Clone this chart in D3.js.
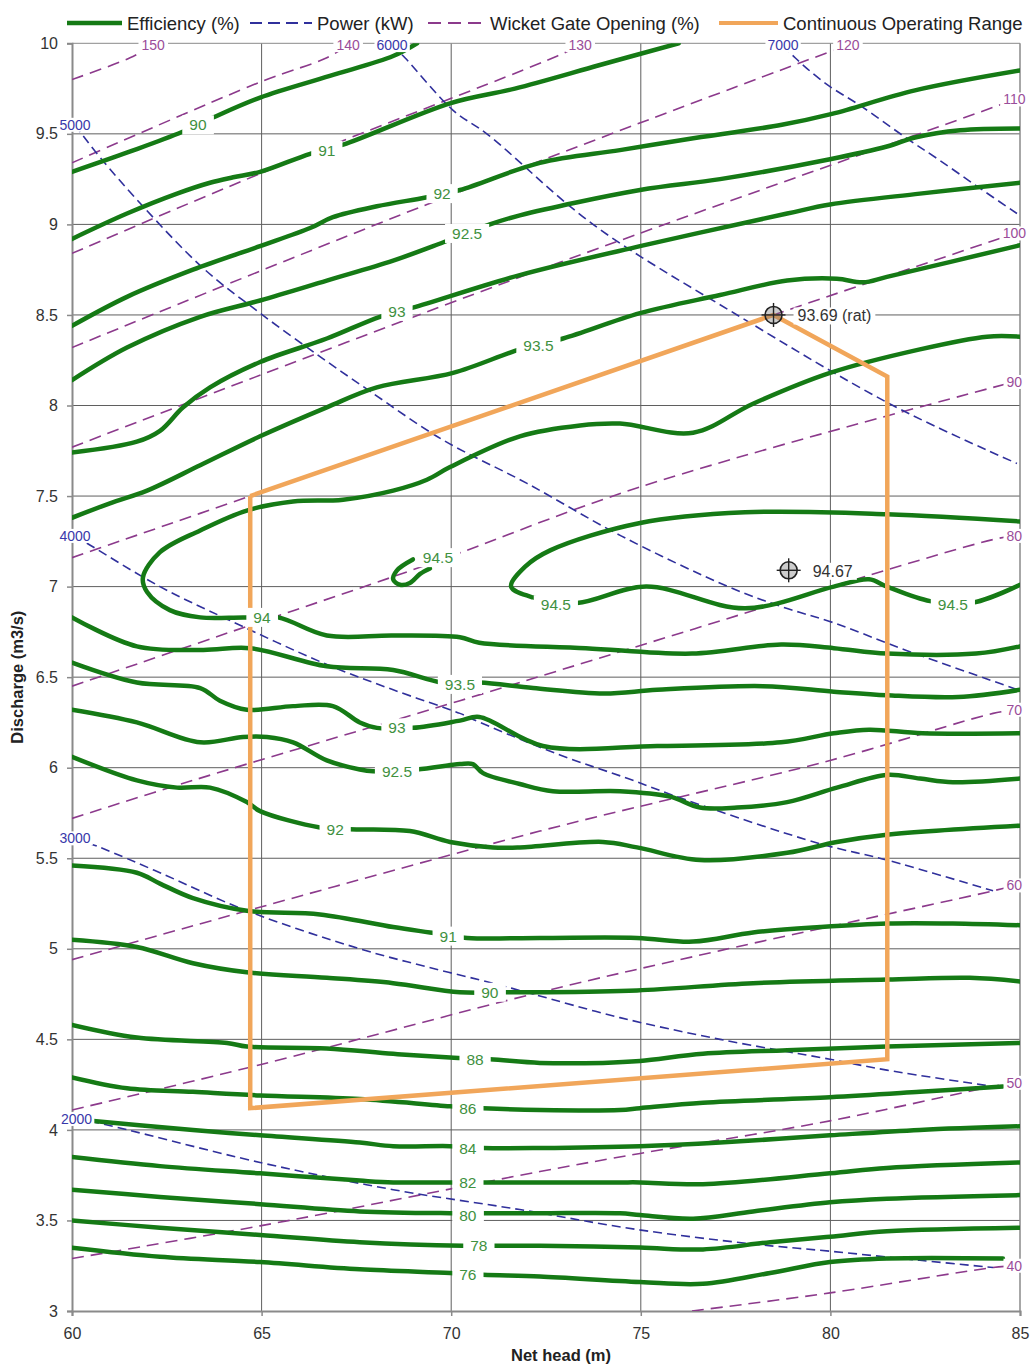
<!DOCTYPE html>
<html lang="en">
<head>
<meta charset="UTF-8">
<title>Turbine Hill Chart</title>
<script src="https://d3js.org/d3.v7.min.js"></script>
<style>
  body { margin: 0; background: #fff; }
  svg text { font-family: "Liberation Sans", Arial, sans-serif; }
</style>
</head>
<body>
<script>
// ---- axis ticks ----
const headTicks = [60, 65, 70, 75, 80, 85];
const flowTicks = [3, 3.5, 4, 4.5, 5, 5.5, 6, 6.5, 7, 7.5, 8, 8.5, 9, 9.5, 10];

// ---- efficiency contours, [net head (m), discharge (m3/s)] ----
const eff90a = [[60,9.29],[61.5,9.40],[62.9,9.51],[63.72,9.59],[64.96,9.70],[66.8,9.82],[68.47,9.93],[69.1,10.0]];
const eff91a = [[60,8.92],[61.45,9.06],[62.77,9.17],[63.64,9.23],[64.25,9.26],[64.96,9.29],[66.28,9.39],[67.15,9.44],[69.99,9.67],[71.68,9.75],[73.92,9.88],[76.0,10.0]];
const eff92a = [[60,8.44],[61.45,8.60],[63.19,8.75],[64.96,8.88],[66.28,8.98],[66.88,9.04],[68.04,9.10],[69.36,9.15],[70.23,9.19],[72.34,9.34],[74.45,9.41],[76.22,9.47],[78.72,9.55],[80.04,9.61],[82.23,9.74],[85,9.85]];
const eff925a = [[60,8.14],[61.45,8.32],[63.38,8.49],[64.96,8.58],[66.72,8.69],[68.47,8.80],[69.78,8.90],[71.02,9.0],[71.81,9.05],[74.98,9.19],[77.09,9.25],[79.99,9.36],[81.49,9.43],[82.23,9.48],[83.42,9.52],[85,9.53]];
const eff93a = [[60,7.74],[61.71,7.80],[62.32,7.86],[62.93,7.99],[63.64,8.10],[64.96,8.24],[66.72,8.37],[68.12,8.49],[68.99,8.54],[71.81,8.72],[74.98,8.88],[78.86,9.06],[79.99,9.11],[82.36,9.17],[85,9.23]];
const eff935a = [[60,7.38],[61.0,7.46],[61.98,7.53],[63.38,7.67],[64.96,7.83],[66.72,7.99],[68.04,8.10],[70.05,8.18],[71.81,8.31],[72.95,8.37],[74.98,8.51],[77.09,8.61],[78.86,8.69],[80.17,8.70],[80.86,8.68],[81.49,8.71],[85,8.885]];
const eff94 = [[85,8.38],[84.13,8.38],[82.36,8.31],[79.99,8.18],[77.96,8.01],[76.38,7.85],[74.45,7.90],[73.40,7.89],[71.81,7.83],[69.97,7.66],[69.36,7.59],[68.47,7.53],[67.15,7.48],[65.83,7.47],[64.61,7.42],[63.38,7.31],[62.32,7.19],[61.87,7.05],[61.98,6.97],[62.58,6.87],[63.38,6.83],[64.51,6.83],[65.43,6.83],[66.72,6.73],[68.47,6.73],[70.23,6.72],[70.74,6.69],[73.55,6.66],[76.35,6.63],[78.7,6.68],[80.09,6.66],[81.49,6.63],[83.84,6.63],[85,6.67]];
const eff945 = [[85,7.36],[81.49,7.40],[77.75,7.41],[74.95,7.35],[72.61,7.20],[71.95,7.11],[71.58,7.00],[72.16,6.94],[73.32,6.91],[75.14,7.00],[77.75,6.88],[80.09,7.00],[81.02,7.04],[81.49,7.00],[82.63,6.92],[83.73,6.91],[85,7.01]];
const eff945i = [[68.99,7.15],[68.57,7.09],[68.47,7.04],[68.65,7.01],[68.91,7.02],[69.18,7.07],[69.44,7.10]];
const eff935b = [[60,6.83],[61.71,6.67],[63.45,6.65],[64.69,6.66],[66.72,6.56],[68.47,6.54],[69.78,6.47],[70.74,6.47],[72.16,6.44],[74.03,6.41],[75.43,6.43],[78.22,6.45],[80.09,6.42],[81.49,6.40],[83.37,6.39],[85,6.43]];
const eff93b = [[60,6.58],[61.71,6.47],[63.38,6.44],[63.90,6.37],[64.61,6.32],[65.83,6.34],[66.88,6.34],[67.59,6.25],[68.04,6.22],[68.99,6.22],[70.23,6.26],[70.74,6.28],[72.42,6.12],[75.43,6.12],[78.7,6.14],[80.09,6.19],[81.02,6.21],[82.43,6.19],[85,6.19]];
const eff925b = [[60,6.32],[61.71,6.25],[63.38,6.14],[64.51,6.17],[65.14,6.17],[65.83,6.14],[66.72,6.04],[67.59,5.99],[67.94,5.98],[69.10,5.99],[70.23,6.02],[70.57,6.02],[70.84,5.97],[71.81,5.91],[72.68,5.87],[74.45,5.87],[75.77,5.84],[76.56,5.78],[77.54,5.78],[78.86,5.81],[80.17,5.89],[81.49,5.96],[82.36,5.94],[83.23,5.92],[85,5.94]];
const eff92b = [[60,6.06],[61.71,5.93],[62.77,5.89],[63.64,5.89],[64.61,5.81],[64.96,5.76],[66.54,5.67],[67.33,5.66],[68.91,5.65],[69.97,5.59],[71.10,5.56],[71.81,5.56],[74.0,5.59],[74.90,5.56],[76.56,5.49],[78.86,5.53],[80.17,5.59],[81.49,5.63],[85,5.68]];
const eff91b = [[60,5.46],[61.71,5.42],[62.32,5.36],[63.19,5.28],[64.61,5.21],[66.54,5.19],[68.47,5.12],[69.44,5.09],[70.42,5.06],[72.34,5.06],[74.90,5.06],[76.38,5.04],[77.96,5.09],[79.73,5.12],[81.49,5.14],[83.23,5.14],[85,5.13]];
const eff90b = [[60,5.05],[61.71,5.01],[63.19,4.92],[64.61,4.87],[66.72,4.84],[68.47,4.81],[70.23,4.76],[71.47,4.76],[72.34,4.76],[74.90,4.77],[77.96,4.81],[81.49,4.83],[83.68,4.84],[85,4.82]];
const eff88 = [[60,4.58],[61.71,4.51],[64.09,4.48],[64.61,4.46],[66.72,4.45],[68.47,4.42],[69.97,4.40],[71.02,4.39],[72.34,4.37],[74.0,4.37],[74.98,4.38],[76.64,4.42],[78.86,4.44],[81.49,4.46],[85,4.48]];
const eff86 = [[60,4.29],[61.45,4.23],[63.19,4.21],[64.96,4.19],[67.59,4.17],[69.97,4.13],[70.84,4.12],[72.34,4.11],[74.45,4.11],[74.98,4.12],[76.64,4.15],[79.99,4.18],[82.36,4.21],[84.55,4.24]];
const eff84 = [[60,4.06],[63.19,4.00],[64.96,3.97],[67.59,3.93],[68.47,3.91],[69.97,3.91],[70.84,3.90],[72.34,3.90],[74.98,3.91],[77.09,3.93],[79.99,3.97],[82.36,4.00],[85,4.02]];
const eff82 = [[60,3.85],[62.32,3.80],[64.96,3.76],[67.59,3.72],[68.47,3.71],[69.97,3.71],[70.84,3.71],[72.34,3.71],[74.45,3.71],[74.98,3.71],[76.64,3.70],[79.99,3.76],[81.49,3.79],[85,3.82]];
const eff80 = [[60,3.67],[62.32,3.63],[64.96,3.59],[67.59,3.55],[69.97,3.54],[70.84,3.54],[72.34,3.54],[74.45,3.54],[74.98,3.53],[76.38,3.51],[77.96,3.55],[79.99,3.60],[81.49,3.62],[85,3.64]];
const eff78 = [[60,3.50],[62.32,3.46],[64.96,3.42],[67.59,3.38],[70.31,3.36],[71.10,3.36],[72.34,3.36],[74.98,3.35],[76.64,3.34],[78.41,3.38],[79.99,3.41],[81.49,3.44],[85,3.46]];
const eff76 = [[60,3.35],[62.32,3.30],[64.96,3.27],[67.59,3.23],[69.97,3.21],[70.84,3.20],[72.34,3.19],[74.98,3.16],[76.64,3.15],[78.41,3.21],[79.99,3.27],[81.49,3.29],[84.55,3.29]];

const effLines = [eff90a, eff91a, eff92a, eff925a, eff93a, eff935a, eff94, eff945, eff945i,
                  eff935b, eff93b, eff925b, eff92b, eff91b, eff90b, eff88, eff86, eff84, eff82, eff80, eff78, eff76];

// contour labels [head, discharge, text]
const effLabels = [
  [63.32, 9.55, "90"], [66.72, 9.41, "91"], [69.76, 9.17, "92"], [70.42, 8.95, "92.5"],
  [68.57, 8.52, "93"], [72.3, 8.33, "93.5"], [65.01, 6.83, "94"], [69.65, 7.16, "94.5"],
  [72.76, 6.90, "94.5"], [83.23, 6.90, "94.5"], [70.23, 6.46, "93.5"], [68.57, 6.22, "93"],
  [68.57, 5.98, "92.5"], [66.94, 5.66, "92"], [69.92, 5.07, "91"], [71.02, 4.76, "90"],
  [70.63, 4.39, "88"], [70.44, 4.12, "86"], [70.44, 3.90, "84"], [70.44, 3.71, "82"],
  [70.44, 3.53, "80"], [70.73, 3.36, "78"], [70.44, 3.20, "76"]
];

// ---- power lines (kW); label sits at the first point ----
const powerValues = [2000, 3000, 4000, 5000, 6000, 7000];
const power2000 = [[60.12,4.06],[60.66,4.04],[64.96,3.82],[68.47,3.67],[71.81,3.56],[74.90,3.45],[77.96,3.37],[79.99,3.33],[82.36,3.28],[84.29,3.24]];
const power3000 = [[60.08,5.61],[60.74,5.56],[62.32,5.42],[64.61,5.21],[67.59,5.00],[69.36,4.90],[71.10,4.81],[72.16,4.75],[74.45,4.62],[77.09,4.50],[79.99,4.39],[81.49,4.33],[84.29,4.24]];
const power4000 = [[60.08,7.28],[60.47,7.23],[62.32,7.00],[64.09,6.82],[66.72,6.57],[68.47,6.43],[70.23,6.30],[70.76,6.25],[72.87,6.07],[74.66,5.94],[76.22,5.82],[79.73,5.58],[81.49,5.49],[84.29,5.32]];
const power5000 = [[60.08,9.55],[60.29,9.49],[60.74,9.37],[61.87,9.10],[63.45,8.76],[64.96,8.51],[66.54,8.27],[67.78,8.09],[69.78,7.81],[72.0,7.57],[74.48,7.28],[77.30,7.0],[78.70,6.89],[80.09,6.80],[81.97,6.65],[84.95,6.43]];
const power6000 = [[68.44,9.99],[68.78,9.92],[70.05,9.63],[70.94,9.5],[73.74,9.0],[77.54,8.5],[81.65,8.0],[84.92,7.68]];
const power7000 = [[78.75,9.99],[79.07,9.92],[79.86,9.78],[80.83,9.65],[82.05,9.47],[82.84,9.36],[83.87,9.21],[84.92,9.06]];
const powerLines = [power2000, power3000, power4000, power5000, power6000, power7000];

// ---- wicket gate opening (%); label sits at the last point ----
const gateValues = [150, 140, 130, 120, 110, 100, 90, 80, 70, 60, 50, 40];
const gate150 = [[60,9.80],[61.53,9.92],[62.14,9.99]];
const gate140 = [[60,9.34],[65.01,9.79],[66.72,9.92],[67.28,9.99]];
const gate130 = [[60,8.84],[64.96,9.28],[72.8,9.93],[73.4,9.99]];
const gate120 = [[60,8.32],[69.36,9.11],[79.94,9.95],[80.46,9.99]];
const gate110 = [[60,7.77],[72.34,8.75],[84.34,9.65],[84.85,9.69]];
const gate100 = [[60,7.16],[64.7,7.5],[78.5,8.5],[84.29,8.91],[84.85,8.95]];
const gate90 = [[60,6.45],[64.61,6.78],[69.36,7.12],[74.98,7.55],[84.29,8.10],[84.85,8.13]];
const gate80 = [[60,5.72],[63.19,5.93],[70.23,6.37],[84.29,7.26],[84.85,7.28]];
const gate70 = [[60,4.94],[72.34,5.65],[79.99,6.04],[84.29,6.30],[84.85,6.32]];
const gate60 = [[60,4.11],[64.96,4.36],[72.34,4.76],[77.09,4.99],[84.29,5.32],[84.85,5.35]];
const gate50 = [[60,3.29],[64.96,3.47],[72.34,3.77],[74.98,3.87],[79.99,4.05],[84.29,4.24],[84.85,4.26]];
const gate40 = [[76.35,3.0],[79.99,3.10],[84.29,3.24],[84.85,3.25]];
const gateLines = [gate150, gate140, gate130, gate120, gate110, gate100, gate90, gate80, gate70, gate60, gate50, gate40];

// ---- continuous operating range and marked points ----
const operatingRange = [[64.7,7.5],[78.5,8.5],[81.5,8.16],[81.5,4.39],[64.7,4.12],[64.7,7.5]];
const ratedPoint = [78.5, 8.5], ratedLabel = "93.69 (rat)";
const bestPoint = [78.9, 7.09], bestLabel = "94.67";

// ---- drawing ----
const W = 1035, H = 1365;
const plot = { left: 72, right: 1020, top: 43.3, bottom: 1311 };
const green = '#157a15', greenText = '#3f913f';
const blue = '#30309c', blueText = '#3838aa';
const purple = '#8c3a8c', purpleText = '#9a4d9a';
const orange = '#f1a65a';
const narrow = '"Liberation Sans Narrow", "DejaVu Sans Condensed", "Arial Narrow", sans-serif';

const svg = d3.select('body').append('svg').attr('width', W).attr('height', H);
const x = d3.scaleLinear().domain([60, 85]).range([plot.left, plot.right]);
const y = d3.scaleLinear().domain([3, 10]).range([plot.bottom, plot.top]);

svg.append('defs').append('clipPath').attr('id', 'plotClip')
  .append('rect').attr('x', plot.left).attr('y', plot.top)
  .attr('width', plot.right - plot.left).attr('height', plot.bottom - plot.top);

// grid
const grid = svg.append('g');
grid.selectAll('line.v').data(headTicks.slice(1, -1)).enter().append('line')
  .attr('x1', d => x(d)).attr('x2', d => x(d)).attr('y1', plot.top).attr('y2', plot.bottom)
  .attr('stroke', '#5f5f5f').attr('stroke-width', 1);
grid.selectAll('line.h').data(flowTicks.slice(1)).enter().append('line')
  .attr('x1', plot.left).attr('x2', plot.right).attr('y1', d => y(d)).attr('y2', d => y(d))
  .attr('stroke', d => d === 10 ? '#8a8a8a' : '#5f5f5f').attr('stroke-width', 1);
grid.append('line').attr('x1', plot.right).attr('x2', plot.right).attr('y1', plot.top).attr('y2', plot.bottom)
  .attr('stroke', '#8a8a8a').attr('stroke-width', 1.5);

// axes
const yAxis = svg.append('g').attr('transform', `translate(${plot.left},0)`)
  .call(d3.axisLeft(y).tickValues(flowTicks).tickSize(5).tickPadding(9).tickFormat(d3.format('')));
const xAxis = svg.append('g').attr('transform', `translate(0,${plot.bottom})`)
  .call(d3.axisBottom(x).tickValues(headTicks).tickSize(5).tickPadding(12).tickFormat(d3.format('')));
[yAxis, xAxis].forEach(a => {
  a.select('.domain').attr('stroke', '#8a8a8a').attr('stroke-width', 2);
  a.selectAll('.tick line').attr('stroke', '#8a8a8a').attr('stroke-width', 1.5);
  a.selectAll('.tick text').attr('font-size', 16).attr('fill', '#333')
    .attr('font-family', '"Liberation Sans", Arial, sans-serif');
});

svg.append('text').attr('transform', `translate(23,${(plot.top + plot.bottom) / 2}) rotate(-90)`)
  .attr('text-anchor', 'middle').attr('font-size', 16.5).attr('font-weight', 'bold').attr('fill', '#222')
  .text('Discharge (m3/s)');
svg.append('text').attr('x', 561).attr('y', 1361)
  .attr('text-anchor', 'middle').attr('font-size', 16.5).attr('font-weight', 'bold').attr('fill', '#222')
  .text('Net head (m)');

const line = d3.line().x(d => x(d[0])).y(d => y(d[1])).curve(d3.curveCatmullRom.alpha(0.5));
const plotG = svg.append('g').attr('clip-path', 'url(#plotClip)');

plotG.selectAll('path.gate').data(gateLines).enter().append('path')
  .attr('d', line).attr('fill', 'none').attr('stroke', purple)
  .attr('stroke-width', 1.6).attr('stroke-dasharray', '12,7');
plotG.selectAll('path.power').data(powerLines).enter().append('path')
  .attr('d', line).attr('fill', 'none').attr('stroke', blue)
  .attr('stroke-width', 1.6).attr('stroke-dasharray', '9,5');
plotG.selectAll('path.eff').data(effLines).enter().append('path')
  .attr('d', line).attr('fill', 'none').attr('stroke', green)
  .attr('stroke-width', 4.5).attr('stroke-linecap', 'round').attr('stroke-linejoin', 'round');

plotG.append('path').datum(operatingRange)
  .attr('d', d3.line().x(d => x(d[0])).y(d => y(d[1])))
  .attr('fill', 'none').attr('stroke', orange).attr('stroke-width', 4.5).attr('stroke-linejoin', 'miter');

// labels with white boxes on top
const labelLayer = svg.append('g');
function boxLabel(px, py, txt, o) {
  const g = labelLayer.append('g');
  const t = g.append('text').attr('x', px).attr('y', py)
    .attr('text-anchor', o.anchor || 'middle').attr('dominant-baseline', 'central')
    .attr('font-size', o.size).attr('fill', o.color).text(txt);
  if (o.family) t.attr('font-family', o.family);
  const b = t.node().getBBox();
  g.insert('rect', 'text').attr('x', b.x - o.padX).attr('y', b.y - o.padY)
    .attr('width', b.width + 2 * o.padX).attr('height', b.height + 2 * o.padY).attr('fill', '#fff');
}

effLabels.forEach(d => boxLabel(x(d[0]), y(d[1]), d[2], { size: 15.5, color: greenText, padX: 7, padY: 1 }));
powerLines.forEach((pts, i) => boxLabel(x(pts[0][0]), y(pts[0][1]), powerValues[i],
  { size: 14, color: blueText, padX: 2, padY: -1, family: narrow }));
gateLines.forEach((pts, i) => { const p = pts[pts.length - 1];
  boxLabel(x(p[0]), y(p[1]), gateValues[i], { size: 14, color: purpleText, padX: 3, padY: -1, family: narrow }); });

// marked points
function marker(pt, txt) {
  const cx = x(pt[0]), cy = y(pt[1]);
  boxLabel(cx + 24, cy + 1, txt, { size: 16, color: '#333', anchor: 'start', padX: 4, padY: 0 });
  const g = svg.append('g');
  g.append('circle').attr('cx', cx).attr('cy', cy).attr('r', 8.5)
    .attr('fill', 'rgba(110,110,110,0.35)').attr('stroke', '#222').attr('stroke-width', 1.6);
  g.append('line').attr('x1', cx - 12).attr('x2', cx + 12).attr('y1', cy).attr('y2', cy)
    .attr('stroke', '#222').attr('stroke-width', 1.4);
  g.append('line').attr('x1', cx).attr('x2', cx).attr('y1', cy - 12).attr('y2', cy + 12)
    .attr('stroke', '#222').attr('stroke-width', 1.4);
}
marker(ratedPoint, ratedLabel);
marker(bestPoint, bestLabel);

// legend
const legend = svg.append('g');
const legendItems = [
  { text: 'Efficiency (%)', x0: 67, x1: 122, color: green, w: 4.5, dash: null },
  { text: 'Power (kW)', x0: 250, x1: 312, color: blue, w: 1.8, dash: '12,6' },
  { text: 'Wicket Gate Opening (%)', x0: 428, x1: 485, color: purple, w: 1.8, dash: '13,7' },
  { text: 'Continuous Operating Range', x0: 719, x1: 778, color: orange, w: 4, dash: null }
];
legendItems.forEach(it => {
  legend.append('line').attr('x1', it.x0).attr('x2', it.x1).attr('y1', 23).attr('y2', 23)
    .attr('stroke', it.color).attr('stroke-width', it.w).attr('stroke-dasharray', it.dash);
  legend.append('text').attr('x', it.x1 + 5).attr('y', 23).attr('dominant-baseline', 'central')
    .attr('font-size', 18.5).attr('fill', '#222').text(it.text);
});
</script>
</body>
</html>
